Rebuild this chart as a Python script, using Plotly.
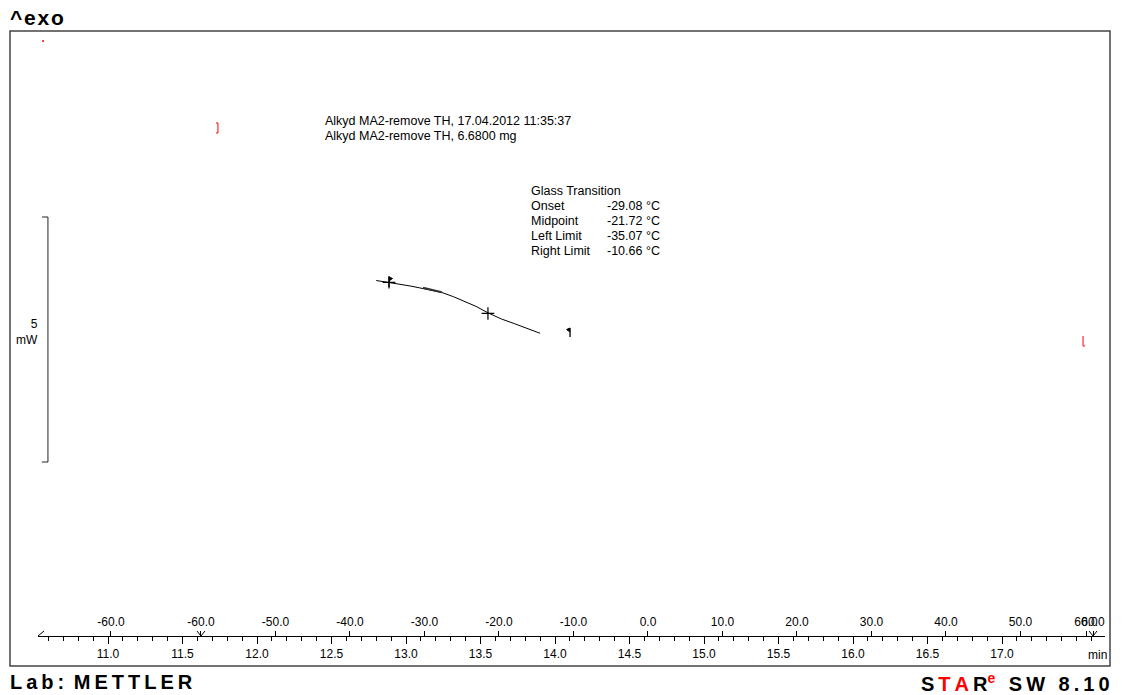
import numpy as np
import plotly.graph_objects as go

# ---------------- data ----------------
# DSC curve: time [min] vs heat flow [mW] (arbitrary offset)
curve_time = [12.80, 12.89, 12.96, 13.04, 13.11, 13.24, 13.32, 13.40, 13.47, 13.55, 13.64, 13.73, 13.81, 13.90]
curve_hf = [-2.133, -2.169, -2.210, -2.251, -2.290, -2.376, -2.465, -2.569, -2.661, -2.792, -2.918, -3.016, -3.112, -3.210]

# Glass transition evaluation marks
limit_flag_time = [12.886, 14.101]          # left / right limit flags
limit_flag_top = [-2.061, -3.102]
limit_flag_bottom = [-2.265, -3.286]
cross_time = [12.886, 13.550]               # left-limit and midpoint crosses
cross_hf = [-2.169, -2.805]
onset_seg_time = [13.114, 13.240]
onset_seg_hf = [-2.280, -2.373]

# red evaluation brackets and dot
bracket_time = [11.738, 17.544]
bracket_top = [1.082, -3.265]
bracket_bottom = [0.878, -3.469]
red_dot_time = [10.564]
red_dot_hf = [2.755]

# 5 mW scale bar
scale_bar_time = 10.597
scale_bar_top = -0.837
scale_bar_mw = 5.0

# axes
time_ticks = [11.0, 11.5, 12.0, 12.5, 13.0, 13.5, 14.0, 14.5, 15.0, 15.5, 16.0, 16.5, 17.0]
time_labels = ["11.0", "11.5", "12.0", "12.5", "13.0", "13.5", "14.0", "14.5", "15.0", "15.5", "16.0", "16.5", "17.0"]
temp_tick_times = [11.020, 11.624, 12.124, 12.624, 13.124, 13.624, 14.124, 14.624, 15.124, 15.624, 16.124, 16.624, 17.124, 17.564, 17.611]
temp_labels = ["-60.0", "-60.0", "-50.0", "-40.0", "-30.0", "-20.0", "-10.0", "0.0", "10.0", "20.0", "30.0", "40.0", "50.0", "60.0", "60.0"]
segment_times = [11.624, 17.611]

info_lines = ["Alkyd MA2-remove TH, 17.04.2012 11:35:37", "Alkyd MA2-remove TH, 6.6800 mg"]
gt_names = ["Onset", "Midpoint", "Left Limit", "Right Limit"]
gt_values = ["-29.08 °C", "-21.72 °C", "-35.07 °C", "-10.66 °C"]

# ---------------- geometry helpers ----------------
W, H = 1124, 695
L, T, R, B = 10, 31, 1110, 666          # frame (plot area)
PX_PER_MIN = 149.0
PX_PER_MW = 49.0
t_left = 11.0 + (38 - 108) / PX_PER_MIN
t_right = 11.0 + (1105 - 108) / PX_PER_MIN
y_low = -10.0
y_high = y_low + (B - T) / PX_PER_MW
axis_pos = (B - 636) / (B - T)

def px(x):
    return (x - L) / (R - L)

def py(y):
    return (B - y) / (B - T)

FONT = "Arial, 'Liberation Sans', sans-serif"
dt = 1.0 / PX_PER_MIN
dy = 1.0 / PX_PER_MW

fig = go.Figure()

# curve
fig.add_trace(go.Scatter(x=curve_time, y=curve_hf, mode="lines",
                         line=dict(color="black", width=1), hoverinfo="skip"))
# onset tangent mark
fig.add_trace(go.Scatter(x=onset_seg_time, y=onset_seg_hf, mode="lines",
                         line=dict(color="#333", width=2.2), hoverinfo="skip"))
# crosses
fig.add_trace(go.Scatter(x=cross_time, y=cross_hf, mode="markers",
                         marker=dict(symbol="cross-thin", size=9, line=dict(color="black", width=1.2)),
                         hoverinfo="skip"))
# flags
for i, (ft, ftop, fbot) in enumerate(zip(limit_flag_time, limit_flag_top, limit_flag_bottom)):
    fig.add_trace(go.Scatter(x=[ft, ft], y=[ftop, fbot], mode="lines",
                             line=dict(color="black", width=1.3), hoverinfo="skip"))
    side = 1 if i == 0 else -1
    fig.add_trace(go.Scatter(x=[ft, ft + side * 3.5 * dt, ft], y=[ftop, ftop - 1.5 * dy, ftop - 4 * dy],
                             mode="lines", fill="toself", fillcolor="black",
                             line=dict(color="black", width=1), hoverinfo="skip"))
# red brackets
for i, (bt, btop, bbot) in enumerate(zip(bracket_time, bracket_top, bracket_bottom)):
    side = -1 if i == 0 else 1
    if i == 0:
        xs = [bt + side * 2 * dt, bt, bt, bt + side * 2 * dt]
        ys = [btop, btop, bbot, bbot]
    else:
        xs = [bt, bt, bt + side * 2 * dt]
        ys = [btop, bbot, bbot]
    fig.add_trace(go.Scatter(x=xs, y=ys, mode="lines",
                             line=dict(color="red", width=1), hoverinfo="skip"))
fig.add_trace(go.Scatter(x=red_dot_time, y=red_dot_hf, mode="markers",
                         marker=dict(color="red", size=2), hoverinfo="skip"))
# scale bar
fig.add_trace(go.Scatter(
    x=[scale_bar_time - 6 * dt, scale_bar_time, scale_bar_time, scale_bar_time - 6 * dt],
    y=[scale_bar_top, scale_bar_top, scale_bar_top - scale_bar_mw, scale_bar_top - scale_bar_mw],
    mode="lines", line=dict(color="#222", width=1), hoverinfo="skip"))
# dummy trace for temperature axis
fig.add_trace(go.Scatter(x=[t_left], y=[y_low], xaxis="x2", mode="markers",
                         marker=dict(opacity=0), hoverinfo="skip"))

domain = [px(38), px(1105)]
fig.update_layout(
    width=W, height=H,
    margin=dict(l=L, r=W - R, t=T, b=H - B),
    paper_bgcolor="white", plot_bgcolor="white",
    showlegend=False,
    font=dict(family=FONT, size=12, color="black"),
    xaxis=dict(domain=domain, range=[t_left, t_right], anchor="free", position=axis_pos,
               showline=True, linecolor="black", linewidth=1, showgrid=False, zeroline=False,
               ticks="outside", ticklen=7, tickwidth=1, tickcolor="black",
               tickmode="array", tickvals=time_ticks, ticktext=time_labels, tickangle=0,
               tickfont=dict(family=FONT, size=12, color="black"),
               minor=dict(tickmode="array", tickvals=[round(v, 1) for v in np.arange(10.6, 17.7, 0.1)],
                          ticks="outside", ticklen=4, tickcolor="black", tickwidth=1, showgrid=False),
               fixedrange=True),
    xaxis2=dict(domain=domain, range=[t_left, t_right], overlaying="x", anchor="free", position=axis_pos,
                side="top", showline=False, showgrid=False, zeroline=False,
                ticks="outside", ticklen=5, tickwidth=1, tickcolor="black",
                tickmode="array", tickvals=temp_tick_times, ticktext=temp_labels, tickangle=0,
                tickfont=dict(family=FONT, size=12, color="black"), fixedrange=True),
    yaxis=dict(domain=[0, 1], range=[y_low, y_high], visible=False, fixedrange=True),
)

shapes = [dict(type="rect", xref="paper", yref="paper", x0=0, x1=1, y0=0, y1=1,
               line=dict(color="#444", width=1.5))]
# segment markers on the axis
vh = 5 / (B - T)
for st in segment_times:
    shapes.append(dict(type="path", xref="x", yref="paper",
                       path=f"M {st - 4*dt} {axis_pos + vh} L {st} {axis_pos} L {st + 4*dt} {axis_pos + vh}",
                       line=dict(color="black", width=1)))
shapes.append(dict(type="line", xref="x", yref="paper", x0=t_left, y0=axis_pos,
                   x1=t_left + 6 * dt, y1=axis_pos + vh, line=dict(color="black", width=1)))
fig.update_layout(shapes=shapes)

ann = []
def add_text(text, x, y, size=12, xanchor="left", align="left"):
    ann.append(dict(text=text, x=x, y=y, xref="paper", yref="paper", showarrow=False,
                    xanchor=xanchor, yanchor="middle", align=align,
                    font=dict(family=FONT, size=size, color="black")))

HS = "\u200a"
TS = "\u2009"
GAP = TS + " " + TS
add_text("<b>^" + HS + "e" + HS + "x" + HS + "o</b>", px(8), py(18), size=21)
add_text("<b>" + TS.join("Lab:") + TS + " " + TS.join("METTLER") + "</b>", px(8), py(682), size=20)
add_text("<b>S" + TS + "<span style='color:red'>T" + TS + "A</span>" + TS + "R<sup><span style='color:red'>e</span></sup>"
         + GAP + TS.join("SW") + GAP + TS.join("8.10") + "</b>",
         px(1112), py(682), size=20, xanchor="right")
for i, line in enumerate(info_lines):
    add_text(line, px(323), py(121 + 15 * i), size=12.5)
add_text("Glass Transition", px(529), py(191), size=12.5)
for i, (n, v) in enumerate(zip(gt_names, gt_values)):
    add_text(n, px(529), py(206 + 15 * i), size=12.5)
    add_text(v, px(605), py(206 + 15 * i), size=12.5)
add_text("5<br>mW", px(40), py(332), size=12, xanchor="right", align="right")
add_text("min", px(1097), py(655), size=12, xanchor="center")
fig.update_layout(annotations=ann)

fig.write_html("out.html", config={"displayModeBar": False},
               post_script="document.body.style.margin='0px'; document.body.style.overflow='hidden';")
